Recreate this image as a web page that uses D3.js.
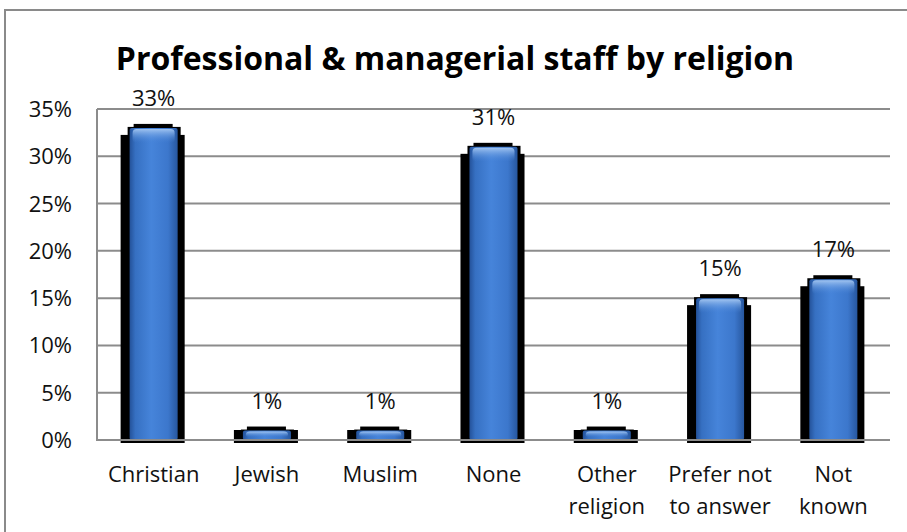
<!DOCTYPE html>
<html>
<head>
<meta charset="utf-8">
<script src="https://cdn.jsdelivr.net/npm/d3@7/dist/d3.min.js"></script>
<style>
  body { margin: 0; background: #fff; }
  svg { display: block; font-family: "Open Sans", sans-serif; }
</style>
</head>
<body>
<svg width="907" height="532"></svg>
<script>
const chartTitle = "Professional & managerial staff by religion";
const categories = [["Christian"], ["Jewish"], ["Muslim"], ["None"], ["Other", "religion"], ["Prefer not", "to answer"], ["Not", "known"]];
const values = [33, 1, 1, 31, 1, 15, 17];
const yTicks = [0, 5, 10, 15, 20, 25, 30, 35];

const svg = d3.select("svg");
const margin = { left: 97, right: 890, top: 109, bottom: 440 };

// outer chart frame (runs off the right / bottom edge)
svg.append("path")
  .attr("d", "M5,540 L5,10 L920,10")
  .attr("fill", "none")
  .attr("stroke", "#8a8a8a")
  .attr("stroke-width", 2);

const x = d3.scaleBand()
  .domain(d3.range(categories.length))
  .range([margin.left, margin.right]);

const y = d3.scaleLinear()
  .domain([0, 35])
  .range([margin.bottom, margin.top]);

const barW = x.bandwidth() * 0.424;

const defs = svg.append("defs");
const gH = defs.append("linearGradient").attr("id", "barH");
[[0, "#24529a"], [0.12, "#3670c2"], [0.45, "#4684da"], [0.8, "#3c77cc"], [1, "#27579f"]]
  .forEach(s => gH.append("stop").attr("offset", s[0]).attr("stop-color", s[1]));
const gV = defs.append("linearGradient").attr("id", "barTop")
  .attr("x1", 0).attr("x2", 0).attr("y1", 0).attr("y2", 1);
gV.append("stop").attr("offset", 0).attr("stop-color", "#a6c8f2").attr("stop-opacity", 0.95);
gV.append("stop").attr("offset", 1).attr("stop-color", "#4a86d9").attr("stop-opacity", 0);

// gridlines
svg.append("g")
  .selectAll("line")
  .data(yTicks.filter(d => d > 0))
  .join("line")
  .attr("x1", margin.left).attr("x2", margin.right)
  .attr("y1", d => y(d)).attr("y2", d => y(d))
  .attr("stroke", "#8c8c8c")
  .attr("stroke-width", 2);

// y axis labels
svg.append("g")
  .selectAll("text")
  .data(yTicks)
  .join("text")
  .attr("x", 72)
  .attr("y", d => y(d) + 8)
  .attr("text-anchor", "end")
  .attr("font-size", 22)
  .attr("fill", "#111")
  .text(d => d + "%");

// bars
const bars = svg.append("g")
  .selectAll("g")
  .data(values)
  .join("g")
  .attr("transform", (d, i) => `translate(${x(i) + (x.bandwidth() - barW) / 2},0)`);

// black glow/shadow behind bar
bars.append("rect")
  .attr("x", -9).attr("width", barW + 16)
  .attr("y", d => Math.min(y(d) + 7, margin.bottom - 10))
  .attr("height", d => margin.bottom + 3 - Math.min(y(d) + 7, margin.bottom - 10))
  .attr("fill", "#000");
bars.append("rect")
  .attr("x", -2).attr("width", barW + 5)
  .attr("y", d => y(d) - 1)
  .attr("height", d => margin.bottom + 3 - y(d) + 1)
  .attr("fill", "#000");
bars.append("rect")
  .attr("x", 4).attr("width", barW - 9)
  .attr("y", d => y(d) - 4)
  .attr("height", 8)
  .attr("fill", "#000");

bars.append("rect")
  .attr("x", 0).attr("width", barW)
  .attr("y", d => y(d))
  .attr("height", d => margin.bottom - y(d))
  .attr("rx", 2)
  .attr("fill", "url(#barH)");
bars.append("rect")
  .attr("x", 3).attr("width", barW - 6)
  .attr("y", d => y(d) + 1)
  .attr("height", d => Math.min(14, (margin.bottom - y(d)) * 0.6))
  .attr("rx", 4)
  .attr("fill", "url(#barTop)");

// data labels
svg.append("g")
  .selectAll("text")
  .data(values)
  .join("text")
  .attr("x", (d, i) => x(i) + x.bandwidth() / 2)
  .attr("y", d => y(d) - 22)
  .attr("text-anchor", "middle")
  .attr("font-size", 22)
  .attr("fill", "#111")
  .text(d => d + "%");

// axes lines
svg.append("line")
  .attr("x1", margin.left).attr("x2", margin.left)
  .attr("y1", margin.top).attr("y2", margin.bottom)
  .attr("stroke", "#8c8c8c").attr("stroke-width", 2);
svg.append("line")
  .attr("x1", margin.left - 1).attr("x2", margin.right)
  .attr("y1", margin.bottom).attr("y2", margin.bottom)
  .attr("stroke", "#8c8c8c").attr("stroke-width", 2);

// category labels
svg.append("g")
  .selectAll("text")
  .data(categories)
  .join("text")
  .attr("x", (d, i) => x(i) + x.bandwidth() / 2)
  .attr("y", 482)
  .attr("text-anchor", "middle")
  .attr("font-size", 22)
  .attr("fill", "#111")
  .selectAll("tspan")
  .data(d => d)
  .join("tspan")
  .attr("x", function() { return this.parentNode.getAttribute("x"); })
  .attr("dy", (d, i) => i === 0 ? 0 : 32)
  .text(d => d);

// title
svg.append("text")
  .attr("x", 455)
  .attr("y", 70)
  .attr("text-anchor", "middle")
  .attr("font-size", 32)
  .attr("font-weight", 700)
  .attr("fill", "#000")
  .text(chartTitle);
</script>
</body>
</html>
